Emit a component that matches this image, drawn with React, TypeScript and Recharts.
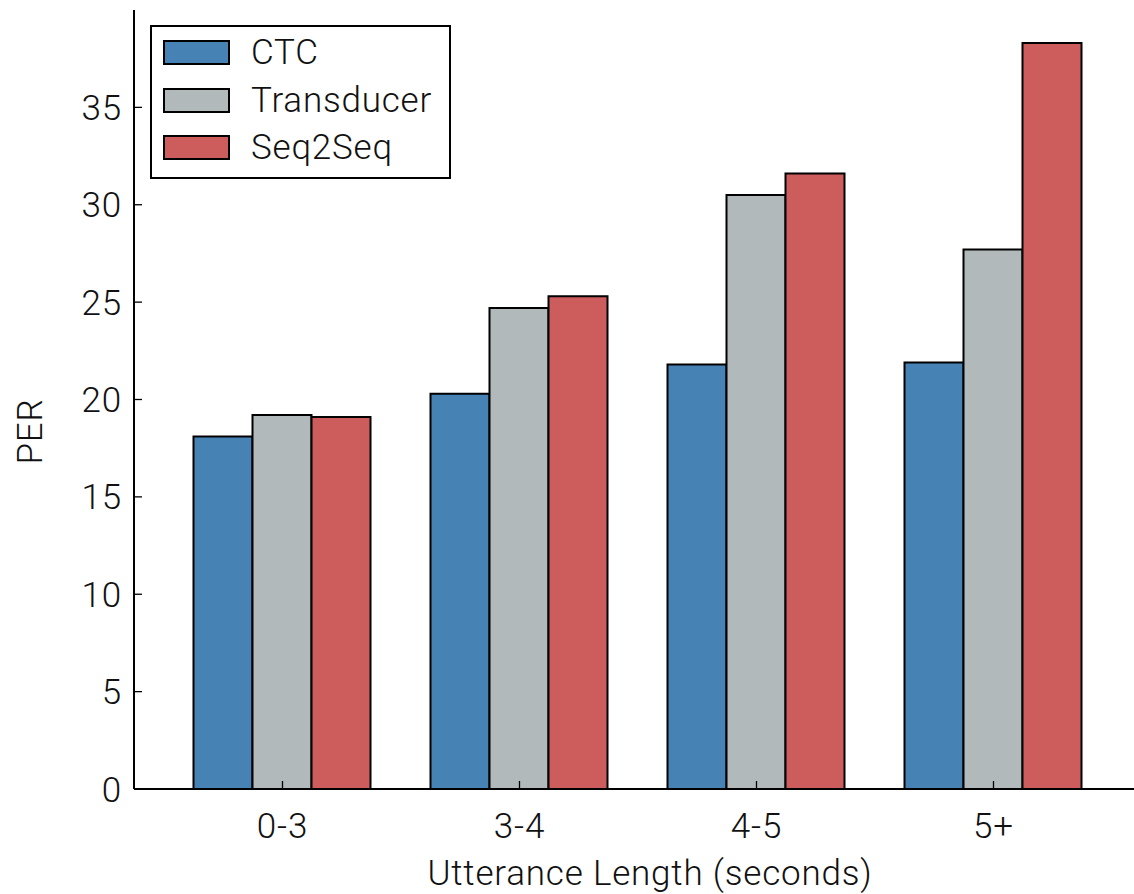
import React from "react";
import { BarChart, Bar, XAxis, YAxis, Legend, Label } from "recharts";

const categories = ["0-3", "3-4", "4-5", "5+"];
const ctc = [18.1, 20.3, 21.8, 21.9];
const transducer = [19.2, 24.7, 30.5, 27.7];
const seq2seq = [19.1, 25.3, 31.6, 38.3];
const yTicks = [0, 5, 10, 15, 20, 25, 30, 35];

const seriesNames = ["CTC", "Transducer", "Seq2Seq"];
const seriesKeys = ["ctc", "transducer", "seq2seq"];
const seriesColors = ["#4682b4", "#b2b9bb", "#cd5c5c"];

const data = categories.map((c, i) => ({
  cat: c,
  ctc: ctc[i],
  transducer: transducer[i],
  seq2seq: seq2seq[i],
}));

const FONT = "Roboto, 'Liberation Sans', Arial, sans-serif";
const FS = 35;
const FW = 300;
const LS = 0.8;

const YTick = (props: any) => {
  const { x, y, payload } = props;
  const axisX = x + 12;
  return (
    <g>
      <line x1={axisX} x2={axisX + 8} y1={y} y2={y} stroke="#000" strokeWidth={1.3} />
      <text x={x} y={y} dy="0.36em" textAnchor="end" fontFamily={FONT} fontSize={FS} fontWeight={FW} letterSpacing={LS} fill="#111">
        {payload.value}
      </text>
    </g>
  );
};

const XTick = (props: any) => {
  const { x, y, payload } = props;
  return (
    <g>
      <line x1={x} x2={x} y1={y} y2={y - 8} stroke="#000" strokeWidth={1.3} />
      <text x={x} y={y + 49} textAnchor="middle" fontFamily={FONT} fontSize={FS} fontWeight={FW} letterSpacing={LS} fill="#111">
        {payload.value}
      </text>
    </g>
  );
};

const TopTick = (props: any) => {
  const { x, y } = props;
  return <line x1={x} x2={x} y1={y} y2={y + 8} stroke="#000" strokeWidth={1.3} />;
};

const renderLegend = () => (
  <div
    style={{
      boxSizing: "border-box",
      width: 301,
      height: 154,
      border: "2px solid #000",
      background: "#fff",
      fontFamily: FONT,
      fontSize: FS,
      fontWeight: FW,
      letterSpacing: LS,
      color: "#111",
      paddingTop: 2,
      paddingLeft: 11,
    }}
  >
    {seriesNames.map((n, i) => (
      <div key={n} style={{ display: "flex", alignItems: "center", height: 47.5 }}>
        <div
          style={{
            boxSizing: "border-box",
            width: 67,
            height: 25,
            background: seriesColors[i],
            border: "2px solid #000",
            marginRight: 21,
            flexShrink: 0,
          }}
        />
        <span style={{ lineHeight: 1 }}>{n}</span>
      </div>
    ))}
  </div>
);

export default function App() {
  return (
    <div style={{ position: "fixed", left: 0, top: 0, width: 1134, height: 894, overflow: "hidden", background: "#fff" }}>
      <BarChart
        width={1150}
        height={894}
        data={data}
        margin={{ top: 10, right: 8, bottom: 0, left: 0 }}
        barCategoryGap={29.5}
        barGap={0}
      >
        <XAxis
          dataKey="cat"
          height={105}
          padding={{ left: 30, right: 30 }}
          axisLine={{ stroke: "#000", strokeWidth: 2 }}
          tickLine={false}
          tickSize={0}
          tickMargin={0}
          tick={<XTick />}
          interval={0}
        >
          <Label
            content={() => (
              <text x={650} y={885} textAnchor="middle" fontFamily={FONT} fontSize={FS} fontWeight={FW} letterSpacing={LS} fill="#111">
                Utterance Length (seconds)
              </text>
            )}
          />
        </XAxis>
        <XAxis
          xAxisId="top"
          dataKey="cat"
          orientation="top"
          height={0}
          padding={{ left: 30, right: 30 }}
          axisLine={{ stroke: "#000", strokeWidth: 2 }}
          tickLine={false}
          tickSize={0}
          tickMargin={0}
          tick={<TopTick />}
          interval={0}
        />
        <YAxis
          width={134}
          domain={[0, 40]}
          ticks={yTicks}
          allowDataOverflow
          axisLine={{ stroke: "#000", strokeWidth: 2 }}
          tickLine={false}
          tickSize={0}
          tickMargin={12}
          tick={<YTick />}
          interval={0}
        >
          <Label
            content={(p: any) => {
              const vb = p.viewBox || { y: 10, height: 779 };
              const cy = vb.y + vb.height / 2 + 32;
              return (
                <text
                  x={42}
                  y={cy}
                  transform={`rotate(-90, 42, ${cy})`}
                  textAnchor="middle"
                  fontFamily={FONT}
                  fontSize={FS}
                  fontWeight={FW}
                  letterSpacing={LS}
                  fill="#111"
                >
                  PER
                </text>
              );
            }}
          />
        </YAxis>
        <Legend
          layout="vertical"
          align="center"
          verticalAlign="middle"
          content={renderLegend}
          wrapperStyle={{ position: "absolute", left: 150, top: 25, width: 301, height: 154 }}
        />
        {seriesKeys.map((k, i) => (
          <Bar
            key={k}
            dataKey={k}
            name={seriesNames[i]}
            fill={seriesColors[i]}
            stroke="#000"
            strokeWidth={2}
            isAnimationActive={false}
          />
        ))}
      </BarChart>
    </div>
  );
}
